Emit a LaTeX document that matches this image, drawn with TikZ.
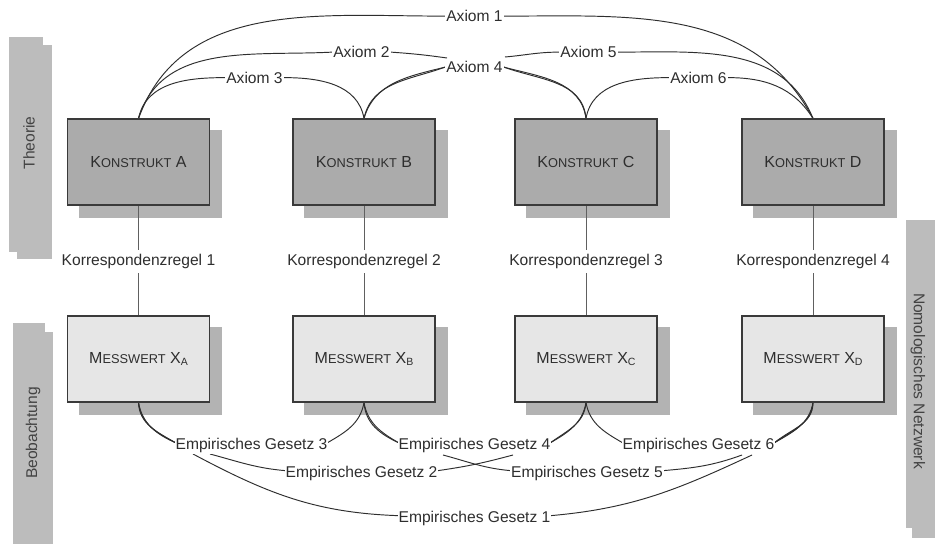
\documentclass[tikz,border=0pt]{standalone}
\usepackage{fontspec}
\setmainfont{Liberation Sans}
\usetikzlibrary{calc}
\pgfdeclarelayer{bglayer}
\pgfdeclarelayer{shadowlayer}
\pgfdeclarelayer{linelayer}
\pgfsetlayers{bglayer,shadowlayer,linelayer,main}
\definecolor{ink}{HTML}{2E2E2E}
\definecolor{boxline}{HTML}{3A3A3A}
\definecolor{kfill}{HTML}{ABABAB}
\definecolor{mfill}{HTML}{E6E6E6}
\definecolor{shadowfill}{HTML}{B3B3B3}
\definecolor{barfill}{HTML}{BCBCBC}
\definecolor{korrline}{HTML}{606060}
\newcommand{\smsc}[1]{{\fontsize{12.8}{15}\selectfont #1}}
\newcommand{\subsc}[1]{\raisebox{-0.3ex}{\fontsize{10.5}{12}\selectfont #1}}
\begin{document}
\begin{tikzpicture}[x=1pt,y=1pt,
  konstrukt/.style={draw=boxline, line width=1.1pt, fill=kfill, minimum width=142pt, minimum height=86pt, inner sep=0pt, text=ink, font=\fontsize{16}{19}\selectfont},
  messwert/.style={konstrukt, fill=mfill},
  lbl/.style={font=\fontsize{15.6}{18}\selectfont, text=ink, inner sep=1pt, fill=white, anchor=base},
  korrlbl/.style={lbl, inner ysep=4pt},
  bartext/.style={font=\fontsize{15.6}{18}\selectfont, text=ink!90, inner sep=0pt},
  conn/.style={draw=ink, line width=0.95pt},
  korr/.style={draw=korrline, line width=0.6pt}
]
\useasboundingbox (0,0) rectangle (935,544);
\begin{pgfonlayer}{bglayer}
\fill[white] (0,0) rectangle (935,544);
\end{pgfonlayer}

% side bars
\fill[barfill] (9,292) rectangle (43,507);
\fill[barfill] (17,285) rectangle (52,499);
\node[bartext, rotate=90] (theorie) at (29,401) {Theorie};
\fill[barfill] (13,0) rectangle (45,221);
\fill[barfill] (19,0) rectangle (53,212);
\node[bartext, rotate=90] (beob) at (33,111) {Beobachtung};
\fill[barfill] (906,16) rectangle (935,324);
\fill[barfill] (912,6) rectangle (935,316);
\node[bartext, rotate=-90] (nomo) at (918,163) {Nomologisches Netzwerk};

% boxes
\node[konstrukt] (ka) at (138.5,382) {K\smsc{ONSTRUKT} A};
\node[konstrukt] (kb) at (364,382) {K\smsc{ONSTRUKT} B};
\node[konstrukt] (kc) at (586,382) {K\smsc{ONSTRUKT} C};
\node[konstrukt] (kd) at (813,382) {K\smsc{ONSTRUKT} D};
\node[messwert] (ma) at (138.5,185) {M\smsc{ESSWERT} X\subsc{A}};
\node[messwert] (mb) at (364,185) {M\smsc{ESSWERT} X\subsc{B}};
\node[messwert] (mc) at (586,185) {M\smsc{ESSWERT} X\subsc{C}};
\node[messwert] (md) at (813,185) {M\smsc{ESSWERT} X\subsc{D}};

\begin{pgfonlayer}{shadowlayer}
\foreach \n in {ka,kb,kc,kd,ma,mb,mc,md}
  \fill[shadowfill] ($(\n.south west)+(12,-12)$) rectangle ($(\n.north east)+(12,-12)$);
\end{pgfonlayer}

% Korrespondenzregeln
\node[korrlbl] (k1) at (138.5,278.3) {Korrespondenzregel 1};
\node[korrlbl] (k2) at (364,278.3) {Korrespondenzregel 2};
\node[korrlbl] (k3) at (586,278.3) {Korrespondenzregel 3};
\node[korrlbl] (k4) at (813,278.3) {Korrespondenzregel 4};

% Axiom labels
\node[lbl] (a1) at (474.5,522.3) {Axiom 1};
\node[lbl] (a2) at (361.5,486.3) {Axiom 2};
\node[lbl] (a3) at (254.5,460.8) {Axiom 3};
\node[lbl] (a4) at (474.5,471.3) {Axiom 4};
\node[lbl] (a5) at (588.5,486.3) {Axiom 5};
\node[lbl] (a6) at (698.5,460.8) {Axiom 6};

% Gesetz labels
\node[lbl] (g3) at (251.5,94.3) {Empirisches Gesetz 3};
\node[lbl] (g4) at (474.5,94.3) {Empirisches Gesetz 4};
\node[lbl] (g6) at (698.5,94.3) {Empirisches Gesetz 6};
\node[lbl] (g2) at (361.5,66.3) {Empirisches Gesetz 2};
\node[lbl] (g5) at (587,66.3) {Empirisches Gesetz 5};
\node[lbl] (g1) at (474.5,21.3) {Empirisches Gesetz 1};

\coordinate (x2a) at (447,486);
\coordinate (x5a) at (505,487);
\coordinate (e2a) at (210,90);
\coordinate (e1a) at (193,90);
\coordinate (e5a) at (443,89);
\coordinate (e2b) at (513,89);
\coordinate (e5b) at (742,89);
\coordinate (e1b) at (752,89);

\begin{pgfonlayer}{linelayer}
% Korrespondenz lines
\foreach \k/\m/\l in {ka/ma/k1,kb/mb/k2,kc/mc/k3,kd/md/k4}{
  \draw[korr] (\k.south) -- (\l.north);
  \draw[korr] (\l.south) -- (\m.north);
}
% Axioms
\draw[conn] (ka.north) to[out=70,in=180] (a1.west);
\draw[conn] (a1.east) to[out=0,in=118] (kd.north);
\draw[conn] (ka.north) to[out=73,in=183] (a2.west);
\draw[conn] (a2.east) to[out=-4,in=172] (x2a);
\draw[conn] (a4.east) to[out=-15,in=98] (kc.north);
\draw[conn] (ka.north) to[out=78,in=180] (a3.west);
\draw[conn] (a3.east) to[out=0,in=100] (kb.north);
\draw[conn] (kb.north) to[out=78,in=200] (a4.west);
\draw[conn] (a4.east) to[out=-20,in=95] (kc.north);
\draw[conn] (kb.north) to[out=74,in=194] (a4.west);
\draw[conn] (x5a) to[out=5,in=180] (a5.west);
\draw[conn] (a5.east) to[out=0,in=112] (kd.north);
\draw[conn] (kc.north) to[out=80,in=180] (a6.west);
\draw[conn] (a6.east) to[out=0,in=122] (kd.north);
% Empirische Gesetze
\draw[conn] (ma.south) to[out=-88,in=150] ($(g3.west)+(1,3)$);
\draw[conn] (ma.south) to[out=-84,in=153] ($(g3.west)+(1,3)$);
\draw[conn] (ma.south) to[out=-80,in=156] ($(g3.west)+(1,3)$);
\draw[conn] ($(g3.east)+(-1,3)$) to[out=30,in=-100] (mb.south);
\draw[conn] (mb.south) to[out=-80,in=150] ($(g4.west)+(1,3)$);
\draw[conn] (mb.south) to[out=-86,in=155] ($(g4.west)+(1,3)$);
\draw[conn] ($(g4.east)+(-1,3)$) to[out=30,in=-100] (mc.south);
\draw[conn] ($(g4.east)+(-1,3)$) to[out=36,in=-94] (mc.south);
\draw[conn] (mc.south) to[out=-80,in=150] ($(g6.west)+(1,3)$);
\draw[conn] ($(g6.east)+(-1,3)$) to[out=30,in=-100] (md.south);
\draw[conn] ($(g6.east)+(-1,3)$) to[out=35,in=-95] (md.south);
\draw[conn] ($(g6.east)+(-1,3)$) to[out=40,in=-90] (md.south);
\draw[conn] (e2a) to[out=-15,in=175] ($(g2.west)+(1,3)$);
\draw[conn] ($(g2.east)+(-1,3)$) to[out=8,in=195] (e2b);
\draw[conn] (e5a) to[out=-15,in=175] ($(g5.west)+(1,3)$);
\draw[conn] ($(g5.east)+(-1,3)$) to[out=5,in=200] (e5b);
\draw[conn] (e1a) to[out=-28,in=178] ($(g1.west)+(1,3)$);
\draw[conn] ($(g1.east)+(-1,3)$) to[out=5,in=205] (e1b);
\end{pgfonlayer}
\end{tikzpicture}
\end{document}
